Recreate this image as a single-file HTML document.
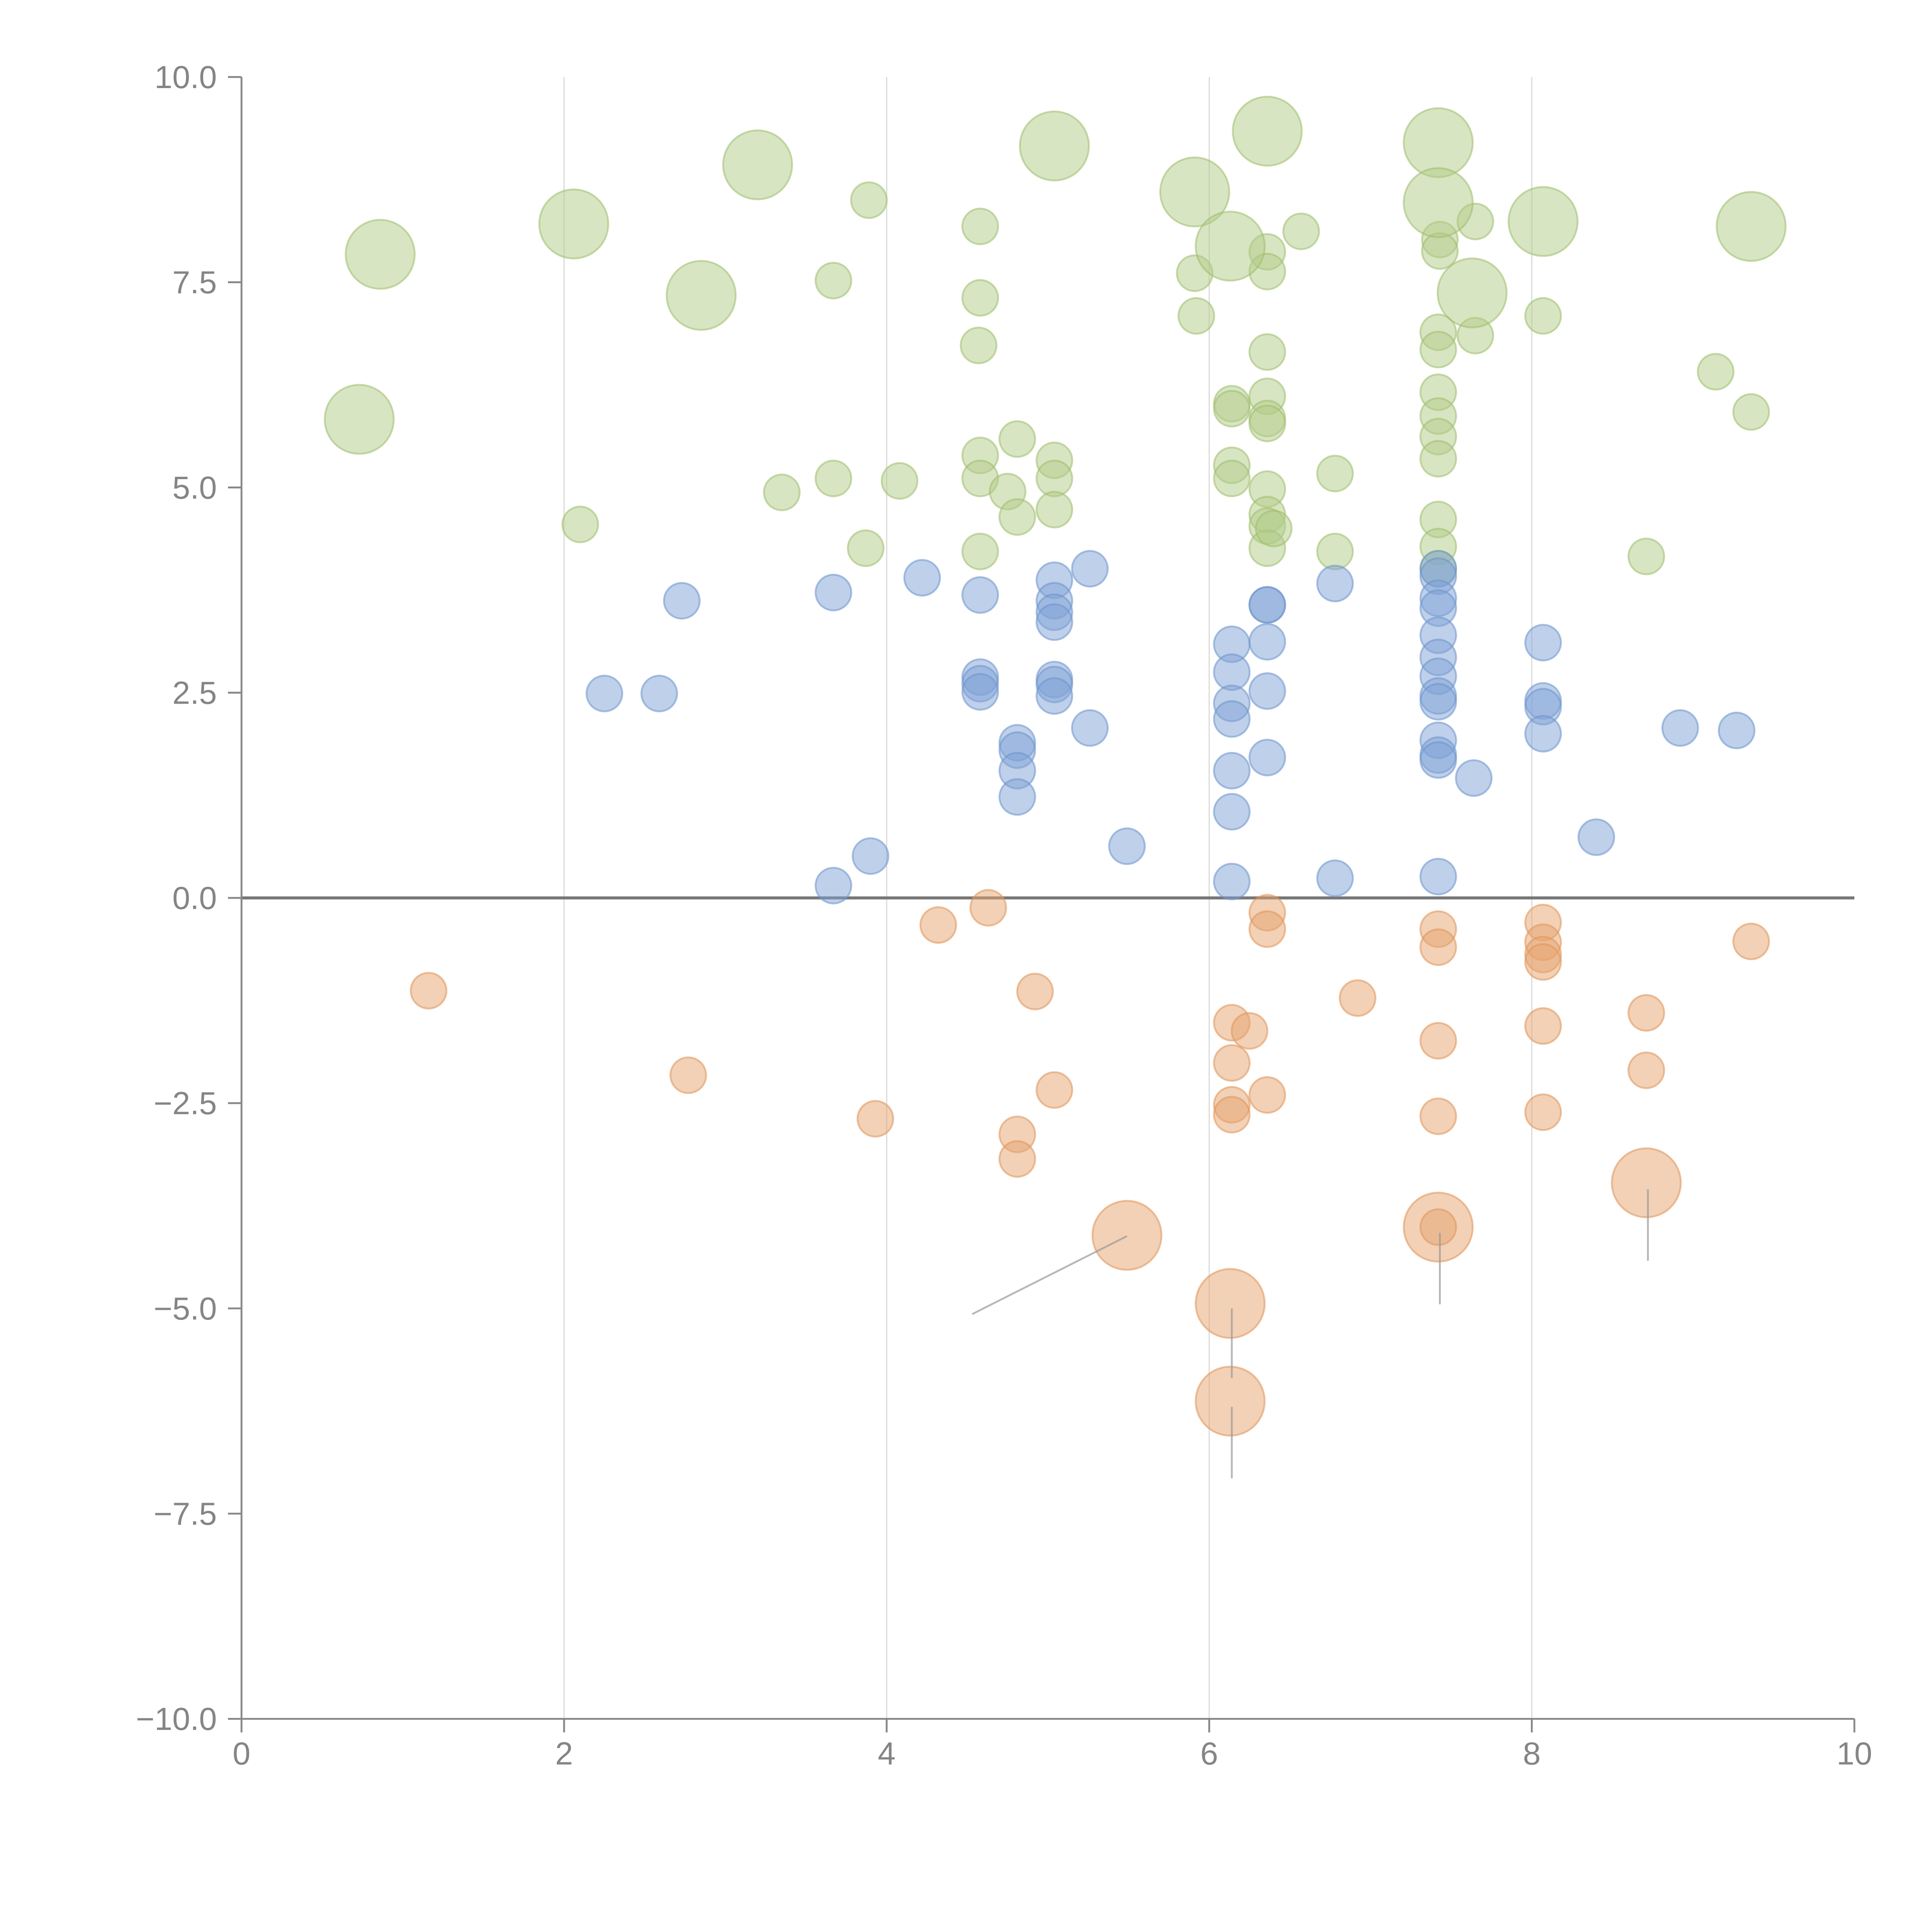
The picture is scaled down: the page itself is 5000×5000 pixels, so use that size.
<!DOCTYPE html>
<html><head><meta charset="utf-8"><style>
html,body{margin:0;padding:0;background:#fff;}
svg{display:block;}
text{font-family:"Liberation Sans",Arial,sans-serif;}
</style></head><body>
<svg id="chart" width="5000" height="5000" viewBox="0 0 1568 1568" xmlns="http://www.w3.org/2000/svg"></svg>
<script>
const xTicks=[0,2,4,6,8,10];
const yTicks=[-10,-7.5,-5,-2.5,0,2.5,5,7.5,10];
const yTickLabels=["−10.0","−7.5","−5.0","−2.5","0.0","2.5","5.0","7.5","10.0"];
const greenX=[3.89,4.58,3.67,4.58,4.57,5.91,5.92,6.36,6.36,6.57,7.65,7.43,7.43,7.65,7.42,7.42,6.36,8.07,9.14,9.36,6.14,6.14,6.36,6.36,6.36,7.42,7.42,7.42,7.42,4.81,4.58,5.04,4.58,5.04,3.67,4.08,3.35,4.75,6.14,6.14,6.78,6.36,6.36,6.36,6.36,6.40,5.04,4.81,7.42,7.42,7.42,2.10,3.87,4.58,6.78,8.71,
0.86,2.06,3.20,2.85,5.04,5.91,6.36,7.42,7.42,8.07,9.36,6.13,7.63,0.73];
const greenY=[8.50,8.18,7.52,7.31,6.73,7.61,7.09,7.87,7.63,8.12,8.24,8.02,7.88,6.85,6.89,6.68,6.65,7.09,6.41,5.92,6.02,5.96,6.11,5.84,5.78,6.16,5.87,5.62,5.35,5.59,5.39,5.33,5.11,5.11,5.11,5.08,4.94,4.95,5.27,5.11,5.17,4.98,4.67,4.53,4.26,4.50,4.73,4.64,4.61,4.28,4.01,4.55,4.26,4.22,4.22,4.16,
7.84,8.21,8.93,7.34,9.16,8.60,9.34,9.20,8.47,8.24,8.18,7.94,7.37,5.83];
const greenSize=[1,1,1,1,1,1,1,1,1,1,1,1,1,1,1,1,1,1,1,1,1,1,1,1,1,1,1,1,1,1,1,1,1,1,1,1,1,1,1,1,1,1,1,1,1,1,1,1,1,1,1,1,1,1,1,1,
2,2,2,2,2,2,2,2,2,2,2,2,2,2];
const blueX=[2.73,3.67,4.22,4.58,5.04,5.26,5.04,5.04,5.04,2.25,2.59,4.58,4.58,4.58,5.04,5.04,5.04,5.26,4.81,4.81,4.81,4.81,6.14,6.14,6.14,6.14,6.14,6.14,6.36,6.36,6.36,6.36,6.36,6.78,7.42,7.42,7.42,7.42,7.42,7.42,7.42,7.42,7.42,7.42,7.42,7.42,7.64,8.07,8.07,8.07,8.07,8.92,9.27,8.40,5.49,3.90,3.67,6.14,6.78,7.42];
const blueY=[3.62,3.72,3.90,3.69,3.87,4.01,3.62,3.48,3.36,2.49,2.49,2.69,2.61,2.51,2.66,2.60,2.46,2.07,1.89,1.80,1.55,1.23,3.09,2.75,2.37,2.18,1.55,1.05,3.57,3.57,3.12,2.52,1.71,3.83,4.01,3.92,3.65,3.53,3.20,2.93,2.70,2.46,2.39,1.92,1.74,1.68,1.46,3.11,2.40,2.33,2.00,2.07,2.04,0.74,0.63,0.51,0.15,0.20,0.24,0.26];
const orangeX=[1.16,2.77,3.93,4.32,4.63,4.92,5.04,4.81,4.81,6.14,6.14,6.25,6.14,6.14,6.36,6.36,6.36,6.92,7.42,7.42,7.42,7.42,8.07,8.07,8.07,8.07,8.07,8.07,8.71,8.71,9.36,
5.49,6.13,6.13,7.42,8.71,7.42];
const orangeY=[-1.13,-2.16,-2.69,-0.33,-0.12,-1.14,-2.34,-2.88,-3.18,-1.52,-2.01,-1.62,-2.52,-2.64,-0.18,-0.38,-2.40,-1.22,-0.38,-0.60,-1.74,-2.66,-0.30,-0.54,-0.69,-0.78,-1.56,-2.61,-1.40,-2.10,-0.53,
-4.11,-4.94,-6.13,-4.01,-3.47,-4.01];
const orangeSize=[1,1,1,1,1,1,1,1,1,1,1,1,1,1,1,1,1,1,1,1,1,1,1,1,1,1,1,1,1,1,1,
2,2,2,2,2,1];
const leaderX1=[5.49,6.14,6.14,7.43,8.72];
const leaderY1=[-4.12,-5.0,-6.2,-4.08,-3.55];
const leaderX2=[4.53,6.14,6.14,7.43,8.72];
const leaderY2=[-5.07,-5.85,-7.07,-4.95,-4.42];

const svg=document.getElementById('chart');
const NS='http://www.w3.org/2000/svg';
const X0=196,X1=1505,Y0=1395,Y1=62.5;
const sx=v=>X0+(v-0)/(10-0)*(X1-X0);
const sy=v=>Y0-(v+10)/20*(Y0-Y1);
const R=[0,14.5,28];
function mk(tag,attrs,parent){const e=document.createElementNS(NS,tag);for(const k in attrs)e.setAttribute(k,attrs[k]);(parent||svg).appendChild(e);return e;}

const grid=mk('g',{});


[2,4,6,8].forEach(v=>{const l=mk('line',{x1:sx(v),x2:sx(v),y1:Y1,y2:Y0,stroke:'#dcdcdc','stroke-width':1},grid);

});

const zl=mk('line',{x1:X0,x2:X1,y1:sy(0),y2:sy(0),stroke:'#777','stroke-width':2.5});



function series(xs,ys,ss,fill,stroke,name){
  const g=mk('g',{});
  
  
  xs.forEach((x,i)=>{
    const c=mk('circle',{cx:sx(x),cy:sy(ys[i]),r:R[ss?ss[i]:1],fill:fill,'fill-opacity':0.5,stroke:stroke,'stroke-opacity':0.55,'stroke-width':1.5},g);
    
    
  });
}
series(greenX,greenY,greenSize,'#b2cb88','#9fbd6c','green');
series(blueX,blueY,null,'#7fa2d5','#6c93cc','blue');
series(orangeX,orangeY,orangeSize,'#e6a46d','#e09457','orange');

const lg=mk('g',{});


leaderX1.forEach((x,i)=>{const l=mk('line',{x1:sx(x),y1:sy(leaderY1[i]),x2:sx(leaderX2[i]),y2:sy(leaderY2[i]),stroke:'#999','stroke-opacity':0.7,'stroke-width':1.5},lg);

});

const ax=mk('g',{});


mk('line',{x1:X0,x2:X1,y1:Y0,y2:Y0,stroke:'#888','stroke-width':1.5},ax);
xTicks.forEach(v=>{mk('line',{x1:sx(v),x2:sx(v),y1:Y0,y2:Y0+11,stroke:'#888','stroke-width':1.5},ax);
const t=mk('text',{x:sx(v),y:Y0+37,'text-anchor':'middle','font-size':26,fill:'#858585'},ax);t.textContent=v;

});

const ay=mk('g',{});


mk('line',{x1:X0,x2:X0,y1:Y1,y2:Y0,stroke:'#888','stroke-width':1.5},ay);
yTicks.forEach((v,i)=>{mk('line',{x1:X0-11,x2:X0,y1:sy(v),y2:sy(v),stroke:'#888','stroke-width':1.5},ay);
const t=mk('text',{x:X0-20,y:sy(v)+9,'text-anchor':'end','font-size':26,fill:'#858585'},ay);t.textContent=yTickLabels[i];

});
</script>
</body></html>
